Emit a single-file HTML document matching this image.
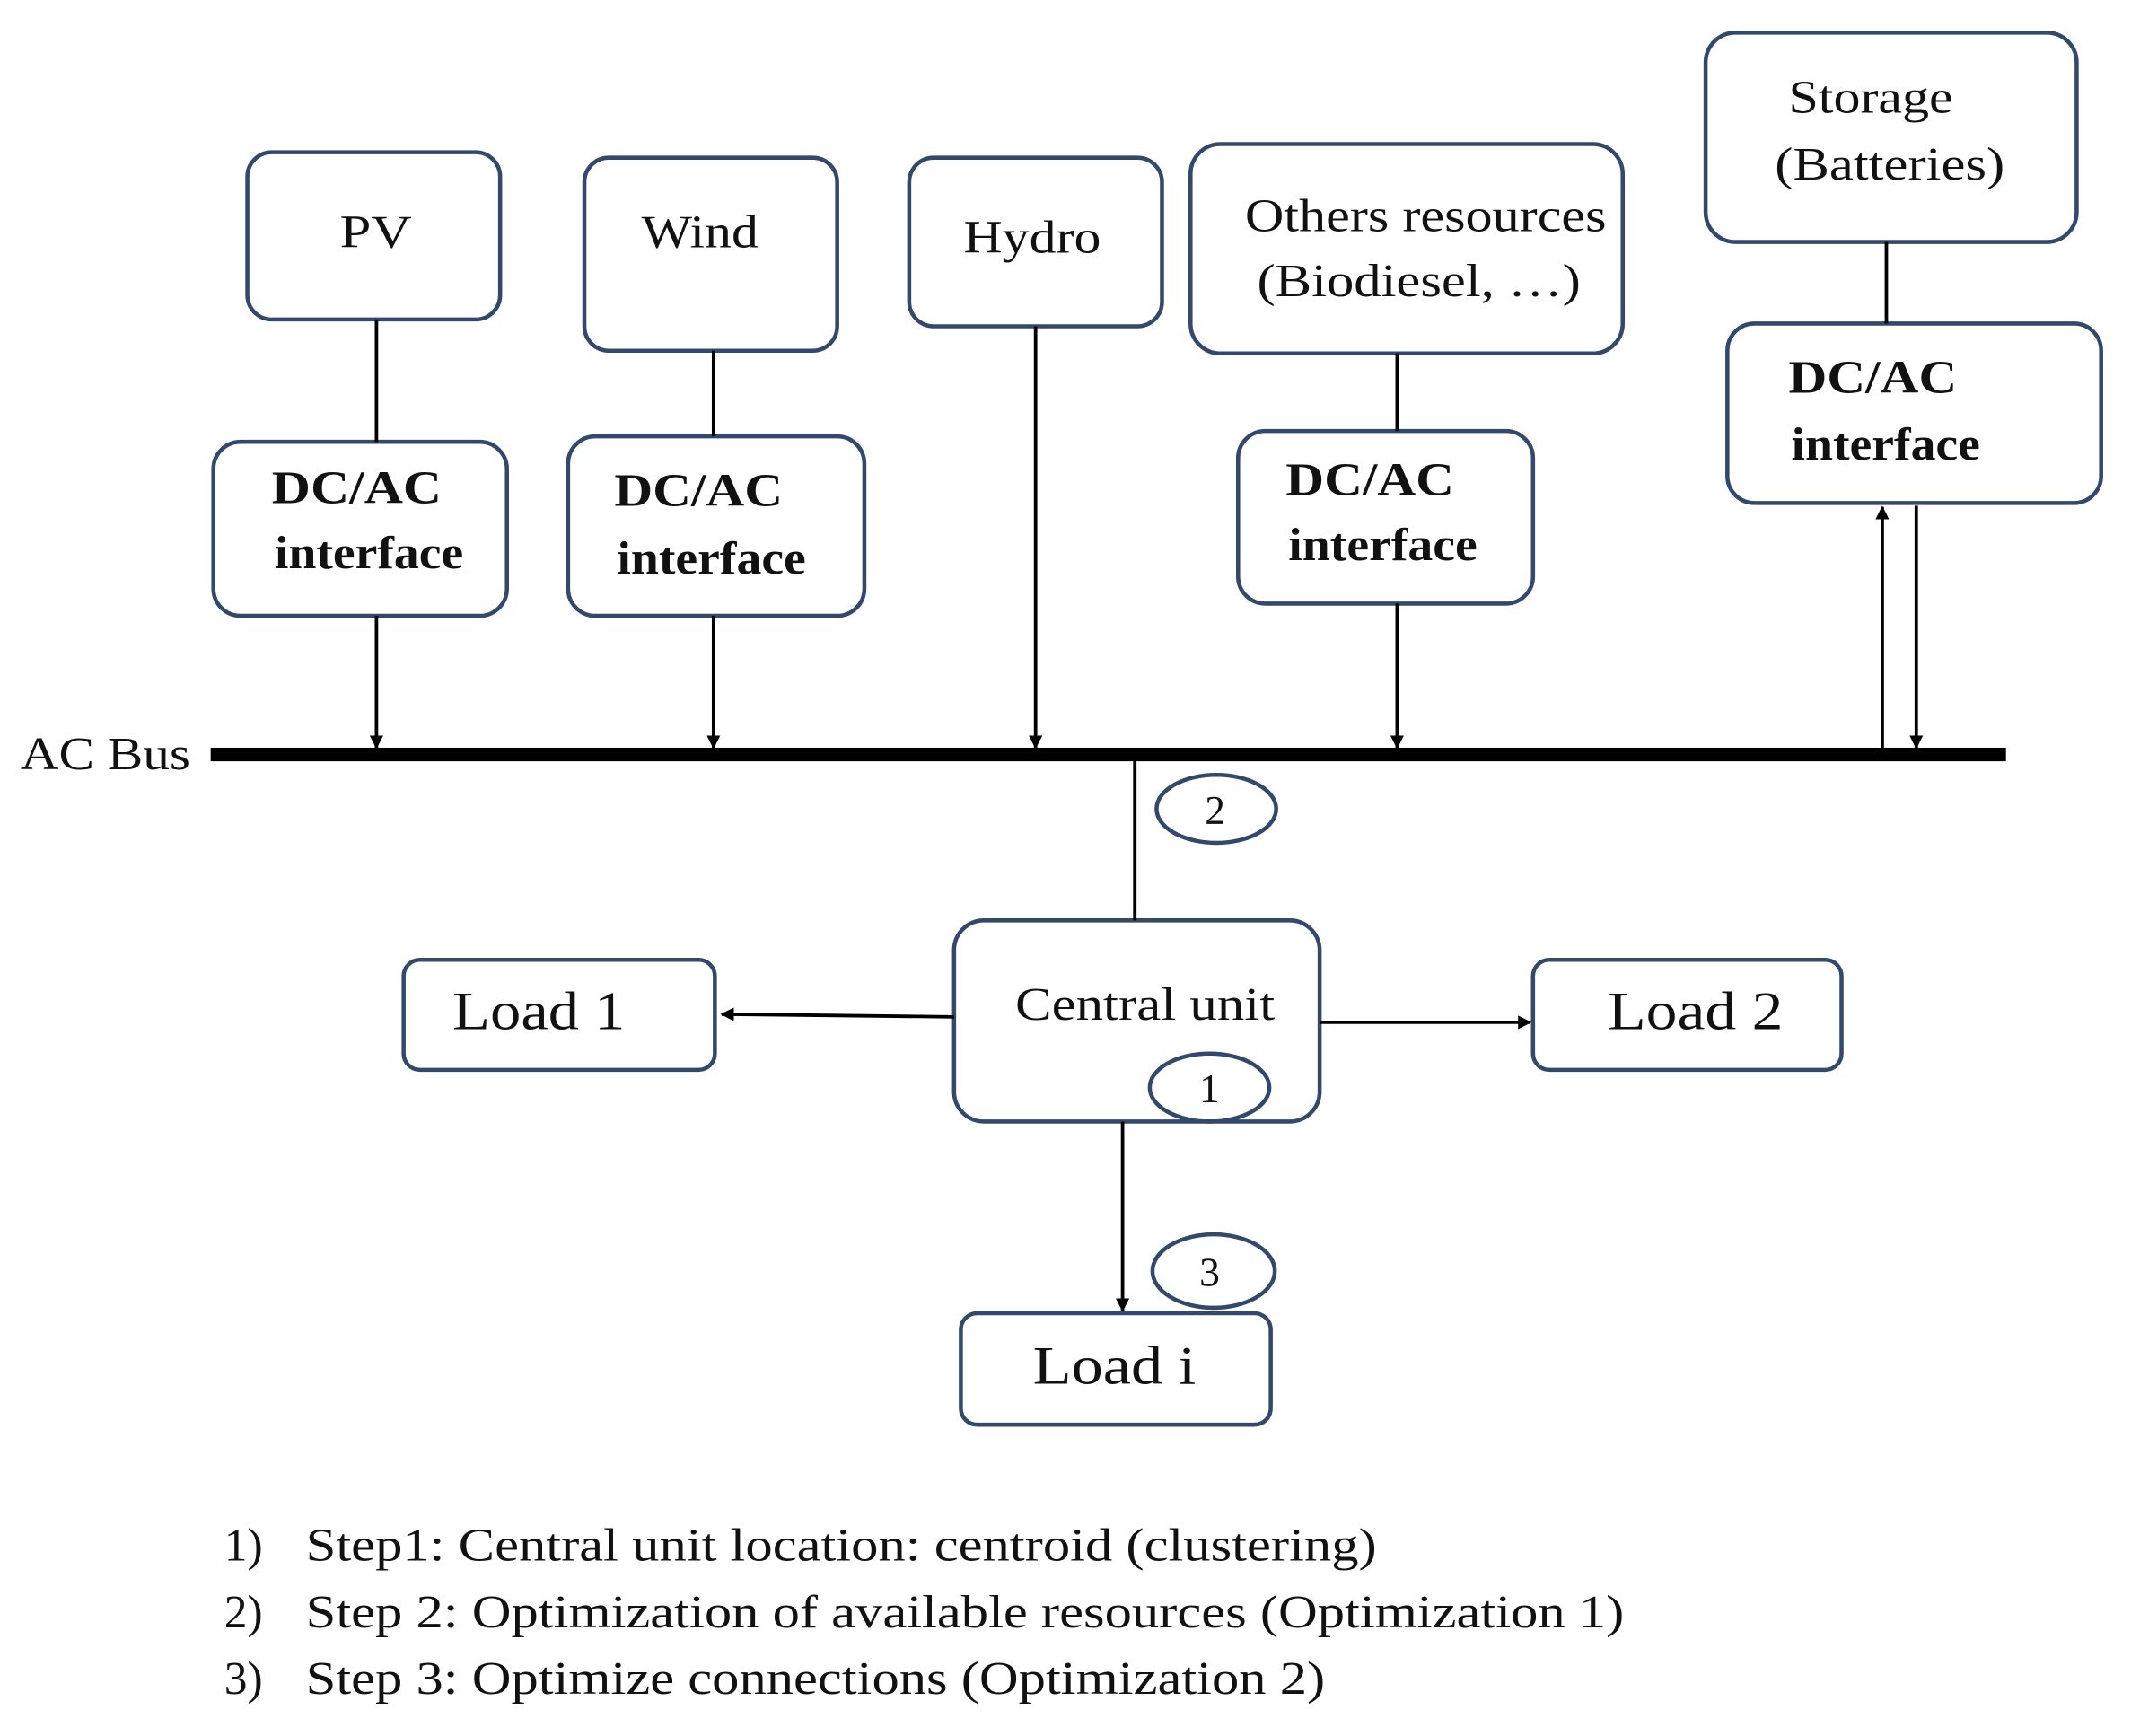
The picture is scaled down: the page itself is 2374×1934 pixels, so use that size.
<html><body style="margin:0;background:#fff">
<svg width="2374" height="1934" viewBox="0 0 1568 1277" preserveAspectRatio="none" xmlns="http://www.w3.org/2000/svg" style="display:block">
<defs><marker id="a" markerWidth="10" markerHeight="10" refX="9" refY="5" orient="auto" markerUnits="userSpaceOnUse"><path d="M0,0 L10,5 L0,10 z" fill="#000"/></marker></defs>
<g fill="none" stroke="#33496b" stroke-width="3">
<rect x="182" y="112" width="186" height="123" rx="18"/>
<rect x="430" y="116" width="186" height="142" rx="18"/>
<rect x="669" y="116" width="186" height="124" rx="18"/>
<rect x="876" y="106" width="318" height="154" rx="22"/>
<rect x="1255" y="24" width="273" height="154" rx="22"/>
<rect x="157" y="325" width="216" height="128" rx="20"/>
<rect x="418" y="321" width="218" height="132" rx="20"/>
<rect x="911" y="317" width="217" height="127" rx="20"/>
<rect x="1271" y="238" width="275" height="132" rx="20"/>
<rect x="702" y="677" width="269" height="148" rx="22"/>
<rect x="297" y="706" width="229" height="81" rx="12"/>
<rect x="1128" y="706" width="227" height="81" rx="12"/>
<rect x="707" y="966" width="228" height="82" rx="12"/>
<ellipse cx="895" cy="595" rx="44" ry="25"/>
<ellipse cx="890" cy="800" rx="44" ry="25"/>
<ellipse cx="893" cy="935" rx="45" ry="27"/>
</g>
<g stroke="#000" stroke-width="2.5" fill="none">
<line x1="277" y1="235" x2="277" y2="325"/><line x1="277" y1="453" x2="277" y2="550" marker-end="url(#a)"/>
<line x1="525" y1="258" x2="525" y2="321"/><line x1="525" y1="453" x2="525" y2="550" marker-end="url(#a)"/>
<line x1="762" y1="240" x2="762" y2="550" marker-end="url(#a)"/>
<line x1="1028" y1="260" x2="1028" y2="317"/><line x1="1028" y1="444" x2="1028" y2="550" marker-end="url(#a)"/>
<line x1="1388" y1="178" x2="1388" y2="238"/>
<line x1="1385" y1="553" x2="1385" y2="373" marker-end="url(#a)"/>
<line x1="1410" y1="372" x2="1410" y2="550" marker-end="url(#a)"/>
<line x1="835" y1="558" x2="835" y2="677"/>
<line x1="702" y1="748" x2="531" y2="746" marker-end="url(#a)"/>
<line x1="971" y1="752" x2="1126" y2="752" marker-end="url(#a)"/>
<line x1="826" y1="825" x2="826" y2="964" marker-end="url(#a)"/>
</g>
<rect x="155" y="550" width="1321" height="10" fill="#000"/>
<g font-family="Liberation Serif, serif" fill="#111" font-size="34">
<text x="250" y="182" textLength="53" lengthAdjust="spacingAndGlyphs">PV</text>
<text x="472" y="182" textLength="86" lengthAdjust="spacingAndGlyphs">Wind</text>
<text x="709" y="186" textLength="101" lengthAdjust="spacingAndGlyphs">Hydro</text>
<text x="916" y="170" textLength="266" lengthAdjust="spacingAndGlyphs">Others resources</text>
<text x="925" y="218" textLength="238" lengthAdjust="spacingAndGlyphs">(Biodiesel, …)</text>
<text x="1316" y="83" textLength="121" lengthAdjust="spacingAndGlyphs">Storage</text>
<text x="1306" y="132" textLength="169" lengthAdjust="spacingAndGlyphs">(Batteries)</text>
<g font-weight="bold">
<text x="200" y="370" textLength="125" lengthAdjust="spacingAndGlyphs">DC/AC</text><text x="202" y="418" textLength="139" lengthAdjust="spacingAndGlyphs">interface</text>
<text x="452" y="372" textLength="124" lengthAdjust="spacingAndGlyphs">DC/AC</text><text x="454" y="422" textLength="139" lengthAdjust="spacingAndGlyphs">interface</text>
<text x="946" y="364" textLength="124" lengthAdjust="spacingAndGlyphs">DC/AC</text><text x="948" y="412" textLength="139" lengthAdjust="spacingAndGlyphs">interface</text>
<text x="1316" y="289" textLength="124" lengthAdjust="spacingAndGlyphs">DC/AC</text><text x="1318" y="338" textLength="139" lengthAdjust="spacingAndGlyphs">interface</text>
</g>
<text x="747" y="750" textLength="191" lengthAdjust="spacingAndGlyphs">Central unit</text>
<text x="333" y="757" font-size="40" textLength="127" lengthAdjust="spacingAndGlyphs">Load 1</text>
<text x="1183" y="757" font-size="40" textLength="129" lengthAdjust="spacingAndGlyphs">Load 2</text>
<text x="760" y="1018" font-size="40" textLength="120" lengthAdjust="spacingAndGlyphs">Load i</text>
<g text-anchor="middle" font-size="30">
<text x="894" y="606">2</text>
<text x="890" y="811">1</text>
<text x="890" y="946">3</text>
</g>
</g>
<g font-family="Liberation Serif, serif" fill="#111" font-size="34">
<text x="15" y="566" textLength="125" lengthAdjust="spacingAndGlyphs">AC Bus</text>
<text x="165" y="1148">1)</text><text x="225" y="1148" textLength="788" lengthAdjust="spacingAndGlyphs">Step1: Central unit location: centroid (clustering)</text>
<text x="165" y="1197">2)</text><text x="225" y="1197" textLength="970" lengthAdjust="spacingAndGlyphs">Step 2: Optimization of available resources (Optimization 1)</text>
<text x="165" y="1246">3)</text><text x="225" y="1246" textLength="750" lengthAdjust="spacingAndGlyphs">Step 3: Optimize connections (Optimization 2)</text>
</g>
</svg>
</body></html>
